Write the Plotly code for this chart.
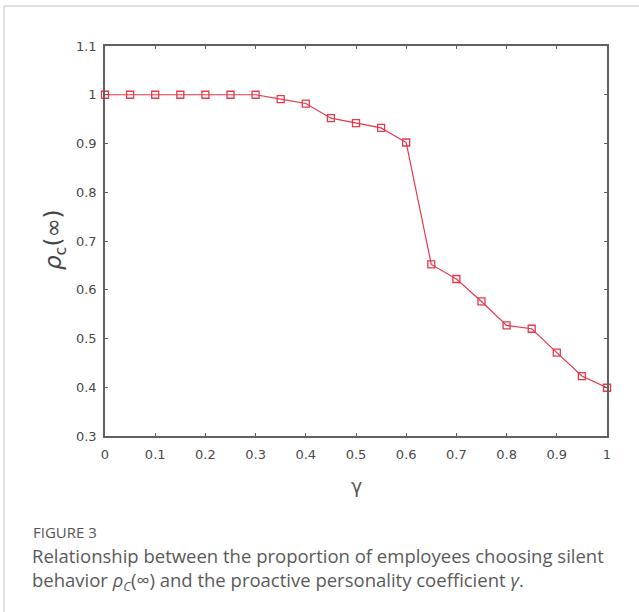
import plotly.graph_objects as go

gamma = [0, 0.05, 0.1, 0.15, 0.2, 0.25, 0.3, 0.35, 0.4, 0.45, 0.5,
         0.55, 0.6, 0.65, 0.7, 0.75, 0.8, 0.85, 0.9, 0.95, 1.0]
rho_c = [1.0, 1.0, 1.0, 1.0, 1.0, 1.0, 1.0, 0.991, 0.982, 0.952, 0.942,
         0.932, 0.902, 0.652, 0.622, 0.576, 0.527, 0.520, 0.471, 0.423, 0.399]

x_ticks = [0, 0.1, 0.2, 0.3, 0.4, 0.5, 0.6, 0.7, 0.8, 0.9, 1]
x_tick_text = ["0", "0.1", "0.2", "0.3", "0.4", "0.5", "0.6", "0.7", "0.8", "0.9", "1"]
y_ticks = [0.3, 0.4, 0.5, 0.6, 0.7, 0.8, 0.9, 1.0, 1.1]
y_tick_text = ["0.3", "0.4", "0.5", "0.6", "0.7", "0.8", "0.9", "1", "1.1"]

RED = "#e8384a"
AXIS = "#606060"
TICKFONT = dict(family="DejaVu Sans", size=13, color="#4a4a4a")

fig = go.Figure()
fig.add_trace(go.Scatter(
    x=gamma, y=rho_c, mode="lines+markers",
    line=dict(color=RED, width=1.2),
    marker=dict(symbol="square-open", size=7, color=RED, line=dict(width=1.3, color=RED)),
    showlegend=False, cliponaxis=False,
))

W, H = 639, 612
L, R, T, B = 105, 607, 46, 436
pw, ph = R - L, B - T

def px(x):
    return (x - L) / pw

def py(y):
    return (B - y) / ph

axis_common = dict(
    showline=True, linecolor=AXIS, linewidth=1.5, mirror="ticks",
    ticks="inside", ticklen=3, tickwidth=1, tickcolor=AXIS,
    showgrid=False, zeroline=False, tickfont=TICKFONT,
)

fig.update_layout(
    width=W, height=H,
    margin=dict(l=L, r=W - R, t=T, b=H - B),
    paper_bgcolor="white", plot_bgcolor="white",
    xaxis=dict(range=[0, 1], tickvals=x_ticks, ticktext=x_tick_text,
               ticklabelstandoff=6, **axis_common),
    yaxis=dict(range=[0.3, 1.1], tickvals=y_ticks, ticktext=y_tick_text,
               ticklabelstandoff=4, **axis_common),
    shapes=[dict(type="rect", xref="paper", yref="paper",
                 x0=px(4), x1=px(700), y0=py(700), y1=py(6),
                 line=dict(color="#c4c4c4", width=1), fillcolor="rgba(0,0,0,0)", layer="below")],
    annotations=[
        dict(text="<i>ρ</i><sub>c</sub>(∞)", xref="paper", yref="paper",
             x=px(55), y=py(240), textangle=-90, showarrow=False,
             font=dict(family="DejaVu Sans", size=23, color="#444444"),
             xanchor="center", yanchor="middle"),
        dict(text="γ", xref="paper", yref="paper",
             x=px(356), y=py(486), showarrow=False,
             font=dict(family="DejaVu Sans", size=19, color="#555555"),
             xanchor="center", yanchor="middle"),
        dict(text="FIGURE 3", xref="paper", yref="paper",
             x=px(31), y=py(532), showarrow=False, xanchor="left", yanchor="middle",
             font=dict(family="Open Sans", size=15, color="#555555")),
        dict(text="Relationship between the proportion of employees choosing silent<br>"
                  "behavior <i>ρ</i><sub><i>C</i></sub>(∞) and the proactive personality coefficient <i>γ</i>.",
             xref="paper", yref="paper", align="left",
             x=px(30), y=py(569), showarrow=False, xanchor="left", yanchor="middle",
             font=dict(family="Open Sans", size=18.5, color="#5a5a5a")),
    ],
)

fig.write_html("out.html")
